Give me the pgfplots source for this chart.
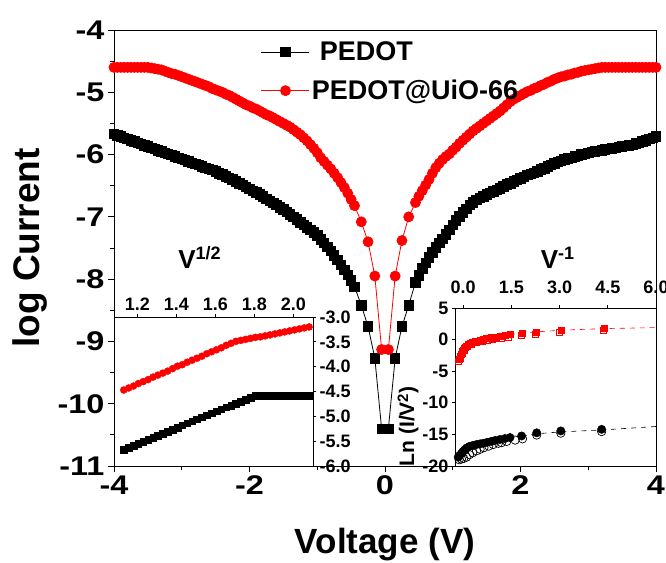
\documentclass[border=0pt]{standalone}
\usepackage{pgfplots}
\pgfplotsset{compat=1.18}
\usepackage{fontspec}
\setmainfont{Liberation Sans}
\newcommand{\fs}[1]{\fontsize{#1}{#1}\selectfont\bfseries}
\begin{document}
\begin{tikzpicture}
\path[use as bounding box] (-114bp,-97bp) rectangle (552bp,466bp);
\begin{axis}[
  at={(0bp,0bp)}, anchor=south west,
  width=542bp, height=436bp, scale only axis,
  xmin=-4, xmax=4, ymin=-11, ymax=-4,
  xtick={-4,-2,0,2,4}, minor xtick={-3,-1,1,3},
  ytick={-11,-10,-9,-8,-7,-6,-5,-4}, minor ytick={-10.5,-9.5,-8.5,-7.5,-6.5,-5.5,-4.5},
  tick align=outside, major tick length=6bp, minor tick length=4bp,
  xtick pos=bottom, ytick pos=left,
  tick style={black, line width=0.8bp},
  axis line style={line width=0.9bp},
  /pgf/number format/assume math mode=true,
  ticklabel style={font=\fs{27bp}},
  xticklabel={\scalebox{1.2}[1]{\pgfmathprintnumber{\tick}}},
  yticklabel={\scalebox{1.2}[1]{\pgfmathprintnumber{\tick}}},
  xlabel={Voltage (V)}, ylabel={log Current},
  xlabel style={at={(axis description cs:0.5,-0.181)},anchor=center,font=\fs{35bp}},
  ylabel style={at={(axis description cs:-0.155,0.5)},anchor=center,font=\fs{37bp}},
  legend style={at={(axis description cs:0.271,0.978)}, anchor=north west, draw=none, fill=none,
    font=\fs{27bp}, row sep=14bp, inner sep=0pt, cells={anchor=west}},
  legend image code/.code={\draw[mark repeat=2,mark phase=2,#1] plot coordinates {(0bp,0bp)(24bp,0bp)(48bp,0bp)};},
]
\addplot[black, line width=0.8bp, mark=square*, mark size=4.7bp, mark options={solid}] coordinates {
(-4.00,-5.67)(-3.95,-5.69)(-3.90,-5.71)(-3.85,-5.73)(-3.80,-5.75)(-3.75,-5.77)(-3.70,-5.79)(-3.65,-5.81)
(-3.60,-5.83)(-3.55,-5.85)(-3.50,-5.87)(-3.45,-5.89)(-3.40,-5.91)(-3.35,-5.93)(-3.30,-5.95)(-3.25,-5.97)
(-3.20,-5.99)(-3.15,-6.01)(-3.10,-6.03)(-3.05,-6.05)(-3.00,-6.07)(-2.95,-6.09)(-2.90,-6.11)(-2.85,-6.13)
(-2.80,-6.15)(-2.75,-6.17)(-2.70,-6.19)(-2.65,-6.21)(-2.60,-6.23)(-2.55,-6.25)(-2.50,-6.27)(-2.45,-6.30)
(-2.40,-6.32)(-2.35,-6.35)(-2.30,-6.37)(-2.25,-6.40)(-2.20,-6.43)(-2.15,-6.46)(-2.10,-6.49)(-2.05,-6.52)
(-2.00,-6.55)(-1.95,-6.58)(-1.90,-6.61)(-1.85,-6.64)(-1.80,-6.67)(-1.75,-6.71)(-1.70,-6.74)(-1.65,-6.78)
(-1.60,-6.81)(-1.55,-6.85)(-1.50,-6.88)(-1.45,-6.92)(-1.40,-6.96)(-1.35,-7.00)(-1.30,-7.04)(-1.25,-7.09)
(-1.20,-7.13)(-1.15,-7.17)(-1.10,-7.21)(-1.05,-7.25)(-1.00,-7.30)(-0.95,-7.36)(-0.90,-7.42)(-0.85,-7.48)
(-0.80,-7.55)(-0.75,-7.62)(-0.70,-7.69)(-0.65,-7.77)(-0.60,-7.85)(-0.55,-7.93)(-0.50,-8.02)(-0.45,-8.12)
(-0.35,-8.42)(-0.25,-8.76)(-0.15,-9.27)(-0.05,-10.40)
(0.05,-10.40)(0.15,-9.27)(0.25,-8.76)(0.35,-8.42)
(0.45,-8.05)(0.50,-7.94)(0.55,-7.83)(0.60,-7.74)(0.65,-7.65)(0.70,-7.57)(0.75,-7.49)(0.80,-7.42)
(0.85,-7.35)(0.90,-7.28)(0.95,-7.21)(1.00,-7.13)(1.05,-7.06)(1.10,-6.99)(1.15,-6.93)(1.20,-6.87)
(1.25,-6.81)(1.30,-6.77)(1.35,-6.73)(1.40,-6.70)(1.45,-6.67)(1.50,-6.64)(1.55,-6.62)(1.60,-6.59)
(1.65,-6.57)(1.70,-6.54)(1.75,-6.51)(1.80,-6.48)(1.85,-6.46)(1.90,-6.43)(1.95,-6.41)(2.00,-6.38)
(2.05,-6.36)(2.10,-6.33)(2.15,-6.31)(2.20,-6.29)(2.25,-6.27)(2.30,-6.24)(2.35,-6.22)(2.40,-6.19)
(2.45,-6.17)(2.50,-6.14)(2.55,-6.12)(2.60,-6.10)(2.65,-6.08)(2.70,-6.06)(2.75,-6.05)(2.80,-6.03)
(2.85,-6.02)(2.90,-6.00)(2.95,-5.99)(3.00,-5.97)(3.05,-5.96)(3.10,-5.95)(3.15,-5.94)(3.20,-5.93)
(3.25,-5.92)(3.30,-5.91)(3.35,-5.90)(3.40,-5.89)(3.45,-5.88)(3.50,-5.87)(3.55,-5.86)(3.60,-5.85)
(3.65,-5.84)(3.70,-5.82)(3.75,-5.81)(3.80,-5.79)(3.85,-5.77)(3.90,-5.75)(3.95,-5.73)(4.00,-5.71)
};
\addlegendentry{\hspace{8bp}PEDOT}
\addplot[red, line width=0.8bp, mark=*, mark size=5bp, mark options={solid}] coordinates {
(-4.00,-4.60)(-3.95,-4.60)(-3.90,-4.60)(-3.85,-4.60)(-3.80,-4.60)(-3.75,-4.60)(-3.70,-4.60)(-3.65,-4.60)
(-3.60,-4.60)(-3.55,-4.60)(-3.50,-4.60)(-3.45,-4.61)(-3.40,-4.62)(-3.35,-4.63)(-3.30,-4.64)(-3.25,-4.66)
(-3.20,-4.68)(-3.15,-4.70)(-3.10,-4.71)(-3.05,-4.73)(-3.00,-4.75)(-2.95,-4.77)(-2.90,-4.79)(-2.85,-4.81)
(-2.80,-4.83)(-2.75,-4.85)(-2.70,-4.87)(-2.65,-4.89)(-2.60,-4.91)(-2.55,-4.94)(-2.50,-4.96)(-2.45,-4.98)
(-2.40,-5.00)(-2.35,-5.03)(-2.30,-5.05)(-2.25,-5.08)(-2.20,-5.11)(-2.15,-5.14)(-2.10,-5.17)(-2.05,-5.20)
(-2.00,-5.22)(-1.95,-5.25)(-1.90,-5.27)(-1.85,-5.30)(-1.80,-5.33)(-1.75,-5.36)(-1.70,-5.38)(-1.65,-5.41)
(-1.60,-5.44)(-1.55,-5.47)(-1.50,-5.50)(-1.45,-5.53)(-1.40,-5.56)(-1.35,-5.60)(-1.30,-5.64)(-1.25,-5.68)
(-1.20,-5.73)(-1.15,-5.78)(-1.10,-5.84)(-1.05,-5.90)(-1.00,-5.97)(-0.95,-6.05)(-0.90,-6.11)(-0.85,-6.17)
(-0.80,-6.23)(-0.75,-6.30)(-0.70,-6.37)(-0.65,-6.45)(-0.60,-6.53)(-0.55,-6.62)(-0.50,-6.72)(-0.45,-6.82)
(-0.35,-7.08)(-0.25,-7.40)(-0.15,-7.95)(-0.05,-9.13)
(0.05,-9.13)(0.15,-7.95)(0.25,-7.38)(0.35,-7.00)
(0.45,-6.77)(0.50,-6.67)(0.55,-6.58)(0.60,-6.49)(0.65,-6.40)(0.70,-6.30)(0.75,-6.21)(0.80,-6.14)
(0.85,-6.08)(0.90,-6.03)(0.95,-5.99)(1.00,-5.93)(1.05,-5.88)(1.10,-5.82)(1.15,-5.77)(1.20,-5.72)
(1.25,-5.67)(1.30,-5.62)(1.35,-5.58)(1.40,-5.54)(1.45,-5.50)(1.50,-5.46)(1.55,-5.42)(1.60,-5.38)
(1.65,-5.34)(1.70,-5.30)(1.75,-5.25)(1.80,-5.20)(1.85,-5.15)(1.90,-5.11)(1.95,-5.08)(2.00,-5.05)
(2.05,-5.02)(2.10,-4.99)(2.15,-4.97)(2.20,-4.94)(2.25,-4.92)(2.30,-4.89)(2.35,-4.87)(2.40,-4.84)
(2.45,-4.82)(2.50,-4.79)(2.55,-4.77)(2.60,-4.75)(2.65,-4.74)(2.70,-4.72)(2.75,-4.71)(2.80,-4.69)
(2.85,-4.68)(2.90,-4.66)(2.95,-4.65)(3.00,-4.64)(3.05,-4.63)(3.10,-4.62)(3.15,-4.61)(3.20,-4.60)
(3.25,-4.60)(3.30,-4.60)(3.35,-4.60)(3.40,-4.60)(3.45,-4.60)(3.50,-4.60)(3.55,-4.60)(3.60,-4.60)
(3.65,-4.60)(3.70,-4.60)(3.75,-4.60)(3.80,-4.60)(3.85,-4.60)(3.90,-4.60)(3.95,-4.60)(4.00,-4.60)
};
\addlegendentry{PEDOT@UiO-66}
\end{axis}

% left inset
\begin{axis}[
  at={(0bp,0bp)}, anchor=south west,
  width=199bp, height=149bp, scale only axis,
  axis background/.style={fill=white},
  axis line style={line width=0.9bp},
  xmin=1.08, xmax=2.1, ymin=-6, ymax=-3,
  xtick={1.2,1.4,1.6,1.8,2.0}, ytick={-6,-5.5,-5,-4.5,-4,-3.5,-3},
  xtick pos=top, xticklabel pos=top, ytick pos=right, yticklabel pos=right,
  tick align=outside, major tick length=3bp,
  tick style={black, line width=0.7bp},
  /pgf/number format/assume math mode=true,
  /pgf/number format/fixed, /pgf/number format/fixed zerofill, /pgf/number format/precision=1,
  ticklabel style={font=\fs{18bp}},
  xlabel={{\fs{26bp}V}\raisebox{9bp}{\fs{18bp}1/2}},
  xlabel style={at={(axis description cs:0.43,1.40)},anchor=center},
]
\addplot[only marks, red, mark=*, mark size=3.5bp] coordinates {
(1.130,-4.47)(1.155,-4.43)(1.180,-4.39)(1.205,-4.34)(1.230,-4.30)(1.255,-4.26)(1.280,-4.21)(1.305,-4.17)
(1.330,-4.13)(1.355,-4.09)(1.380,-4.04)(1.405,-3.99)(1.430,-3.96)(1.455,-3.91)(1.480,-3.87)(1.505,-3.83)
(1.530,-3.79)(1.555,-3.74)(1.580,-3.70)(1.605,-3.66)(1.630,-3.62)(1.655,-3.57)(1.680,-3.53)(1.705,-3.49)
(1.730,-3.47)(1.755,-3.45)(1.780,-3.43)(1.805,-3.41)(1.830,-3.40)(1.855,-3.38)(1.880,-3.36)(1.905,-3.34)
(1.930,-3.32)(1.955,-3.30)(1.980,-3.28)(2.005,-3.26)(2.030,-3.24)(2.055,-3.22)(2.080,-3.20)
};
\addplot[only marks, black, mark=square*, mark size=3.3bp] coordinates {
(1.130,-5.67)(1.155,-5.63)(1.180,-5.59)(1.205,-5.55)(1.230,-5.51)(1.255,-5.47)(1.280,-5.43)(1.305,-5.39)
(1.330,-5.35)(1.355,-5.31)(1.380,-5.27)(1.405,-5.23)(1.430,-5.18)(1.455,-5.14)(1.480,-5.10)(1.505,-5.06)
(1.530,-5.02)(1.555,-4.98)(1.580,-4.94)(1.605,-4.90)(1.630,-4.86)(1.655,-4.82)(1.680,-4.78)(1.705,-4.74)
(1.730,-4.70)(1.755,-4.66)(1.780,-4.62)(1.805,-4.58)(1.830,-4.58)(1.855,-4.58)(1.880,-4.58)(1.905,-4.58)
(1.930,-4.58)(1.955,-4.58)(1.980,-4.58)(2.005,-4.58)(2.030,-4.58)(2.055,-4.58)(2.080,-4.58)
};
\end{axis}

% right inset
\begin{axis}[
  at={(341bp,0bp)}, anchor=south west,
  width=201bp, height=158bp, scale only axis,
  axis background/.style={fill=white},
  axis line style={line width=0.9bp},
  xmin=-0.25, xmax=6, ymin=-20, ymax=5,
  xtick={0,1.5,3,4.5,6}, ytick={-20,-15,-10,-5,0,5},
  xtick pos=top, xticklabel pos=top, ytick pos=left,
  tick align=outside, major tick length=3bp,
  tick style={black, line width=0.7bp},
  /pgf/number format/assume math mode=true,
  xticklabel style={/pgf/number format/fixed, /pgf/number format/fixed zerofill, /pgf/number format/precision=1, yshift=8bp},
  ticklabel style={font=\fs{18bp}},
  xlabel={{\fs{26bp}V}\raisebox{9bp}{\fs{18bp}-1}},
  xlabel style={at={(axis description cs:0.51,1.32)},anchor=center},
  ylabel={Ln (I/V\raisebox{6bp}{\fs{15bp}2})},
  ylabel style={at={(axis description cs:-0.234,0.25)},anchor=center, font=\fs{21bp}},
]
\addplot[red, dashed, line width=0.6bp, dash pattern=on 5bp off 5bp] coordinates {
(1.46,0.78)(1.85,1.05)(2.29,1.22)(3.04,1.48)(4.38,1.74)(6,1.9)};
\addplot[black, dashed, line width=0.6bp, dash pattern=on 5bp off 5bp] coordinates {
(1.82,-15.3)(2.29,-14.9)(3.04,-14.6)(4.31,-14.3)(6,-13.75)};
\addplot[only marks, red, mark=square, mark size=3bp, mark options={line width=0.7bp, fill=white}] coordinates {
(-0.15,-3.4)(-0.09,-3.0)(-0.03,-2.2)(0.03,-1.75)(0.13,-1.1)(0.27,-0.7)(0.42,-0.45)(0.6,-0.3)(0.75,-0.15)
(0.9,0.0)(1.05,0.15)(1.2,0.25)(1.4,0.4)(1.82,0.7)(2.26,0.9)(3.01,1.15)(4.35,1.4)};
\addplot[only marks, red, mark=square*, mark size=3bp] coordinates {
(-0.12,-3.07)(-0.09,-2.7)(-0.06,-2.29)(-0.03,-1.9)(0.0,-1.6)(0.03,-1.41)(0.06,-1.2)(0.1,-1.0)
(0.16,-0.73)(0.22,-0.6)(0.3,-0.45)(0.37,-0.31)(0.45,-0.18)(0.54,-0.06)(0.63,0.05)(0.72,0.16)
(0.8,0.26)(0.89,0.36)(1.0,0.45)(1.15,0.57)(1.3,0.68)(1.46,0.78)(1.85,1.05)(2.29,1.22)(3.04,1.48)(4.38,1.74)};
\addplot[only marks, black, mark=o, mark size=4.2bp, mark options={line width=0.7bp, fill=white}] coordinates {
(-0.12,-19.0)(-0.05,-18.9)(0.02,-18.8)(0.11,-18.6)(0.2,-18.2)(0.3,-17.9)(0.42,-17.6)(0.53,-17.35)
(0.65,-17.1)(0.8,-16.85)(0.94,-16.6)(1.1,-16.4)(1.2,-16.3)(1.36,-16.1)(1.62,-15.9)(1.85,-15.7)
(2.29,-15.1)(3.04,-14.8)(4.31,-14.55)};
\addplot[only marks, black, mark=*, mark size=4.2bp] coordinates {
(-0.15,-18.6)(-0.1,-18.3)(-0.05,-18.0)(0.0,-17.7)(0.05,-17.45)(0.11,-17.15)(0.2,-16.9)(0.3,-16.75)
(0.42,-16.6)(0.53,-16.5)(0.63,-16.4)(0.75,-16.25)(0.88,-16.1)(1.0,-15.95)(1.15,-15.8)(1.3,-15.65)
(1.46,-15.5)(1.82,-15.25)(2.29,-14.75)(3.04,-14.45)(4.31,-14.2)};
\end{axis}
\end{tikzpicture}
\end{document}
